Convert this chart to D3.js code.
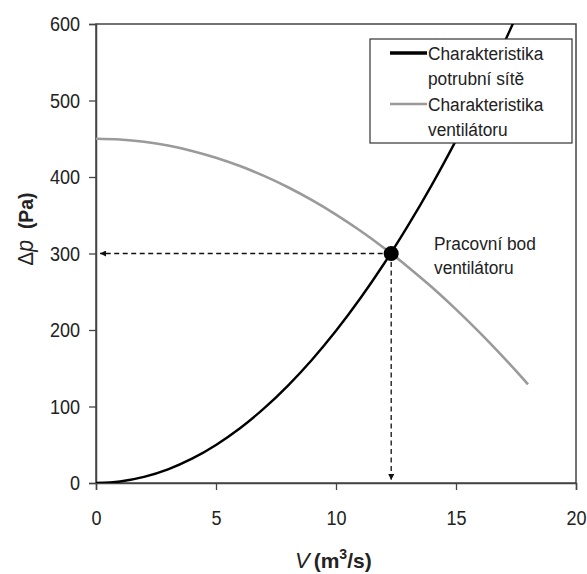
<!DOCTYPE html>
<html><head><meta charset="utf-8">
<script src="https://cdn.jsdelivr.net/npm/d3@7"></script>
<style>
body{margin:0;background:#fff;}
text{font-family:"Liberation Sans",Arial,sans-serif;fill:#222;}
</style></head>
<body><svg id="c" width="587" height="574"></svg>
<script>
// Data
const flowV = [0,1,2,3,4,5,6,7,8,9,10,11,12,13,14,15,16,17,17.5,18];
const systemDp = [0,2,8,17.9,31.8,49.8,71.6,97.5,127.4,161.2,199,240.8,286.6,336.3,390,447.8,509.4,575.1,609.4,null];
const fanDp = [450,449,446,441.1,434.1,425.2,414.3,401.4,386.6,369.7,350.9,330.1,307.3,282.5,255.8,227,196.3,163.6,146.5,128.9];
const xTicks = [0,5,10,15,20];
const yTicks = [0,100,200,300,400,500,600];
const opPoint = {v:12.3, dp:300};
const legendLabels = [["Charakteristika","potrubní sítě"],["Charakteristika","ventilátoru"]];
const pointLabel = ["Pracovní bod","ventilátoru"];

const svg = d3.select("#c");
const x = d3.scaleLinear().domain([0,20]).range([96,576]);
const y = d3.scaleLinear().domain([0,600]).range([483,24]);
const SX = 0.91; // condensed look

// defs
const defs = svg.append("defs");
defs.append("clipPath").attr("id","clip").append("rect")
  .attr("x",x(0)).attr("y",y(600)).attr("width",x(20)-x(0)).attr("height",y(0)-y(600));
defs.append("marker").attr("id","arr").attr("viewBox","0 0 10 10")
  .attr("refX",10).attr("refY",5).attr("markerWidth",10).attr("markerHeight",6)
  .attr("markerUnits","userSpaceOnUse").attr("orient","auto")
  .append("path").attr("d","M0,0 L10,5 L0,10 Z").attr("fill","#111");

// frame
svg.append("rect").attr("x",x(0)).attr("y",y(600)).attr("width",x(20)-x(0)).attr("height",y(0)-y(600))
  .attr("fill","none").attr("stroke","#444").attr("stroke-width",1.5);

// axes
const xAxis = svg.append("g").attr("transform",`translate(0,${y(0)})`)
  .call(d3.axisBottom(x).tickValues(xTicks).tickSize(7).tickPadding(20));
const yAxis = svg.append("g").attr("transform",`translate(${x(0)},0)`)
  .call(d3.axisLeft(y).tickValues(yTicks).tickSize(7));
[xAxis,yAxis].forEach(a=>{
  a.select(".domain").attr("stroke","#444").attr("stroke-width",1.5);
  a.selectAll(".tick line").attr("stroke","#444").attr("stroke-width",1.3);
  a.selectAll(".tick text").attr("font-size",20.5).attr("fill","#2a2a2a")
   .style("font-family",'"Liberation Sans",Arial,sans-serif');
});
xAxis.selectAll(".tick text").attr("transform",`scale(${0.88},1)`);
yAxis.selectAll(".tick text").attr("x",-16/0.88).attr("transform",`scale(${0.88},1)`);

// curves
const sysData = flowV.map((v,i)=>({v,dp:systemDp[i]})).filter(d=>d.dp!==null);
const fanData = flowV.map((v,i)=>({v,dp:fanDp[i]}));
const line = d3.line().x(d=>x(d.v)).y(d=>y(d.dp)).curve(d3.curveCatmullRom.alpha(0.5));
const g = svg.append("g").attr("clip-path","url(#clip)");
g.append("path").datum(fanData).attr("d",line).attr("fill","none").attr("stroke","#9a9a9a").attr("stroke-width",2.6);
g.append("path").datum(sysData).attr("d",line).attr("fill","none").attr("stroke","#000").attr("stroke-width",2.4);

// dashed guide lines
svg.append("line").attr("x1",x(opPoint.v)).attr("y1",y(opPoint.dp)).attr("x2",x(0)+4).attr("y2",y(opPoint.dp))
  .attr("stroke","#111").attr("stroke-width",1.3).attr("stroke-dasharray","5,3.5").attr("marker-end","url(#arr)");
svg.append("line").attr("x1",x(opPoint.v)).attr("y1",y(opPoint.dp)).attr("x2",x(opPoint.v)).attr("y2",y(0)-3)
  .attr("stroke","#111").attr("stroke-width",1.3).attr("stroke-dasharray","5,3.5").attr("marker-end","url(#arr)");

// operating point
svg.append("circle").attr("cx",x(opPoint.v)).attr("cy",y(opPoint.dp)).attr("r",7.5).attr("fill","#000");

function condText(parent, tx, ty, str, size){
  return parent.append("text").attr("transform",`translate(${tx},${ty}) scale(${SX},1)`)
    .attr("font-size",size).text(str);
}
pointLabel.forEach((t,i)=>condText(svg,434,250+i*24,t,19));

// legend
const lg = svg.append("g");
lg.append("rect").attr("x",370).attr("y",39).attr("width",202).attr("height",104)
  .attr("fill","#fff").attr("stroke","#333").attr("stroke-width",1.2);
const legColors = ["#000","#9a9a9a"];
legendLabels.forEach((lab,i)=>{
  const yy = 53 + i*51;
  lg.append("line").attr("x1",390).attr("x2",427).attr("y1",yy).attr("y2",yy)
    .attr("stroke",legColors[i]).attr("stroke-width",i?2.6:3.4);
  lab.forEach((s,j)=>condText(lg,428,yy+7+j*25,s,19));
});

// axis titles
const xt = svg.append("text").attr("x",295).attr("y",568).attr("font-size",21).attr("font-weight","bold");
xt.append("tspan").attr("font-style","italic").attr("font-weight","normal").attr("font-size",22).text("V");
xt.append("tspan").attr("dx",4).text("(m");
xt.append("tspan").attr("dy",-9).attr("font-size",14).text("3");
xt.append("tspan").attr("dy",9).text("/s)");

const yt = svg.append("text").attr("transform",`translate(33,229) rotate(-90) scale(0.92,1)`).attr("text-anchor","middle")
  .attr("font-size",21);
yt.append("tspan").attr("font-size",22).text("Δ");
yt.append("tspan").attr("font-style","italic").attr("font-size",23).text("p");
yt.append("tspan").attr("font-weight","bold").attr("dx",12).text("(Pa)");
</script></body></html>
